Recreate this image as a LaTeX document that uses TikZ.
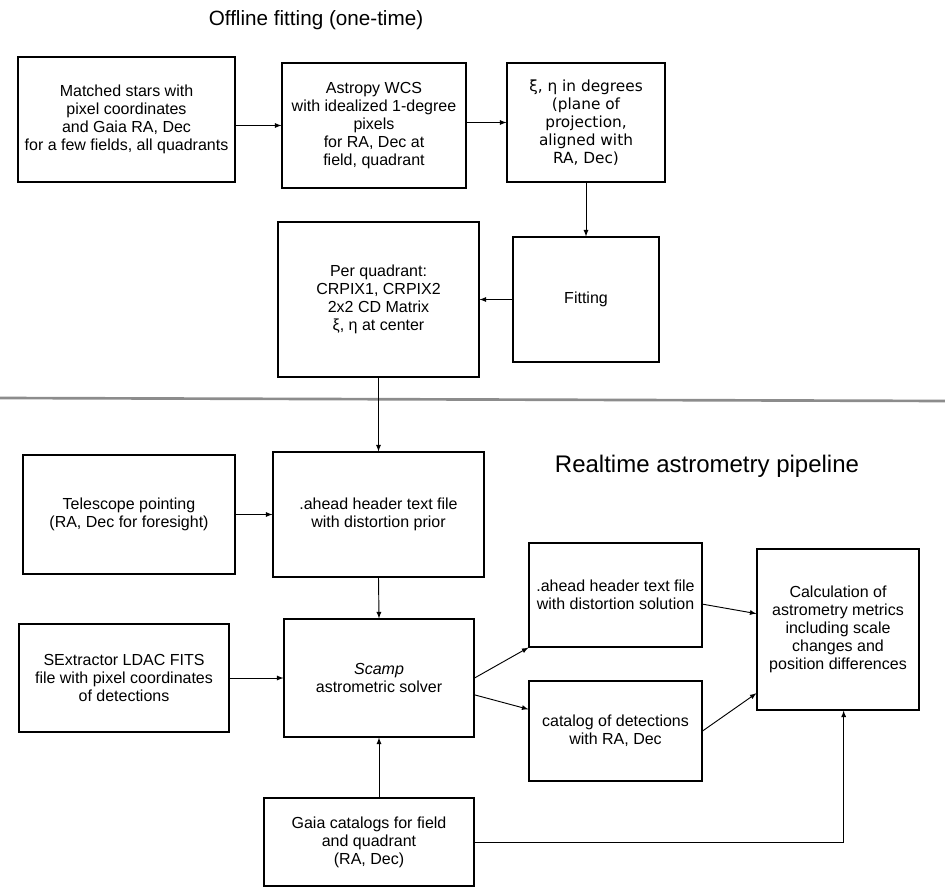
\documentclass[tikz,border=0pt]{standalone}
\usepackage{fontspec}
\setmainfont{Liberation Sans}
\newfontfamily\grandefont{DejaVu Sans}
\usetikzlibrary{arrows}

\begin{document}
\begin{tikzpicture}[
x=0.75pt,
y=-0.75pt,
box/.style={
  draw,
  line width=0.8pt,
  align=center,
  inner sep=2pt,
  font=\fontsize{12}{13.5}\selectfont
  },
boxsize/.style 2 args={
  minimum width=#1*0.75pt,
  minimum height=#2*0.75pt
  },
link/.style={
  ->,
  line width=0.7pt
  },
title/.style={
  font=\fontsize{#1}{18}\selectfont
  },
>=latex
]
\useasboundingbox (0,0) rectangle (945,887);
\node[title=15.5] (offline) at (316,20) {Offline fitting (one-time)};
\node[title=18] (realtime) at (707,466) {Realtime astrometry pipeline};
\node[box,boxsize={217}{125}] (matched) at (126.5,119.5) {Matched stars with\\pixel coordinates\\and Gaia RA, Dec\\for a few fields, all quadrants};
\node[box,boxsize={184}{125}] (wcs) at (374,125.5) {Astropy WCS\\with idealized 1-degree\\pixels\\for RA, Dec at\\field, quadrant};
\node[box,boxsize={158}{119},font=\grandefont\fontsize{11.5}{13.5}\selectfont] (xieta) at (586,122.5) {ξ, η in degrees\\(plane of\\projection,\\aligned with\\RA, Dec)};
\node[box,boxsize={146}{125}] (fitting) at (586,299.5) {Fitting};
\node[box,boxsize={201}{155}] (perquad) at (378.5,299.5) {Per quadrant:\\CRPIX1, CRPIX2\\2x2 CD Matrix\\ξ, η at center};
\draw[line width=2pt,black!45] (0,398) -- (945,401);
\node[box,boxsize={212}{119}] (pointing) at (129,514.5) {Telescope pointing\\(RA, Dec for foresight)};
\node[box,boxsize={211}{125}] (prior) at (378.5,514.5) {.ahead header text file\\with distortion prior};
\node[box,boxsize={210}{108}] (sextractor) at (124,678) {SExtractor LDAC FITS\\file with pixel coordinates\\of detections};
\node[box,boxsize={190}{118}] (scamp) at (379,678) {\textit{Scamp}\\astrometric solver};
\node[box,boxsize={173}{104}] (solution) at (615.5,595) {.ahead header text file\\with distortion solution};
\node[box,boxsize={173}{100}] (catalog) at (615.5,731) {catalog of detections\\with RA, Dec};
\node[box,boxsize={162}{161}] (metrics) at (838,629.5) {Calculation of\\astrometry metrics\\including scale\\changes and\\position differences};
\node[box,boxsize={210}{88}] (gaia) at (369,842) {Gaia catalogs for field\\and quadrant\\(RA, Dec)};
\draw[link] (matched.east |- wcs.west) -- (wcs.west);
\draw[link] (wcs.east |- xieta.west) -- (xieta.west);
\draw[link] (xieta.south) -- (fitting.north);
\draw[link] (fitting.west) -- (fitting.west -| perquad.east);
\draw[link] (perquad.south) -- (prior.north);
\draw[link] (pointing.east) -- (pointing.east -| prior.west);
\draw[link] (prior.south) -- (scamp.north);
\draw[link] (sextractor.east) -- (scamp.west);
\draw[link] (scamp.east) -- (solution.south west);
\draw[link] (scamp.-10) -- (catalog.166);
\draw[link] (solution.-6) -- (metrics.169);
\draw[link] (catalog.east) -- (metrics.218);
\draw[link] (gaia.north -| scamp.south) -- (scamp.south);
\draw[link] (gaia.east) -| (metrics.-86);
\end{tikzpicture}
\end{document}
